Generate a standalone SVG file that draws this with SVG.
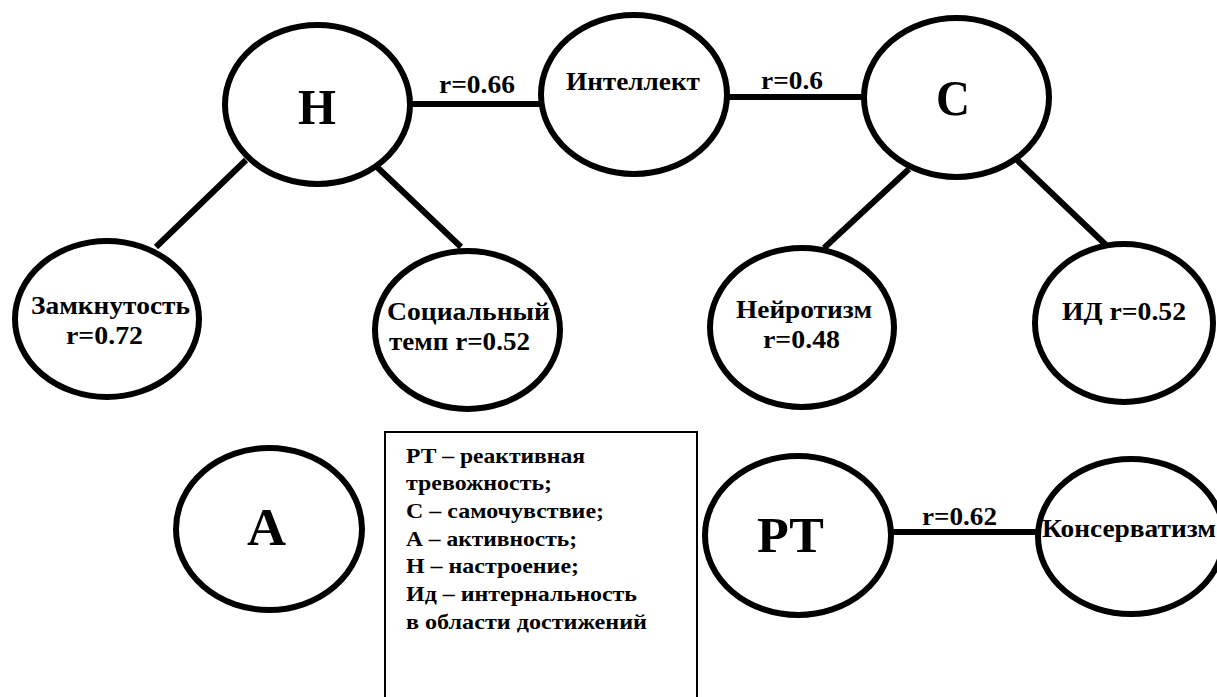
<svg xmlns="http://www.w3.org/2000/svg" width="1217" height="697" viewBox="0 0 1217 697">
<style>
.n{fill:#fff;stroke:#000;stroke-width:6}
.c{stroke:#000;stroke-width:6;fill:none}
text{font-family:'Liberation Serif','DejaVu Serif',serif;font-weight:700;fill:#000;font-size:25px}
.big{font-size:50px}
.lg{font-size:21px}
</style>
<rect width="1217" height="697" fill="#fff"/>
<g id="connectors">
<line class="c" x1="410" y1="104" x2="542" y2="104"/>
<line class="c" x1="727" y1="97" x2="864" y2="97"/>
<line class="c" x1="246" y1="160" x2="156" y2="247"/>
<line class="c" x1="377" y1="167" x2="461" y2="247"/>
<line class="c" x1="909" y1="169" x2="824" y2="248"/>
<line class="c" x1="1017" y1="160" x2="1106" y2="245"/>
<line class="c" x1="891" y1="532" x2="1038" y2="532"/>
<text x="439" y="93" textLength="76" lengthAdjust="spacingAndGlyphs">r=0.66</text>
<text x="761" y="89" textLength="62" lengthAdjust="spacingAndGlyphs">r=0.6</text>
<text x="922" y="525" textLength="75" lengthAdjust="spacingAndGlyphs">r=0.62</text>
</g>
<g id="node-H">
<ellipse class="n" cx="317.5" cy="104.5" rx="92.5" ry="79.5"/>
<text class="big" x="298" y="124" textLength="38" lengthAdjust="spacingAndGlyphs">Н</text>
</g>
<g id="node-intellect">
<ellipse class="n" cx="634" cy="94.5" rx="93" ry="79.5"/>
<text x="566" y="90" textLength="134" lengthAdjust="spacingAndGlyphs">Интеллект</text>
</g>
<g id="node-C">
<ellipse class="n" cx="956.5" cy="97.5" rx="92.5" ry="79.5"/>
<text class="big" x="936" y="115" textLength="34" lengthAdjust="spacingAndGlyphs">С</text>
</g>
<g id="node-zamk">
<ellipse class="n" cx="107" cy="319" rx="92" ry="78"/>
<text x="31" y="314" textLength="159" lengthAdjust="spacingAndGlyphs">Замкнутость</text>
<text x="66" y="344" textLength="77" lengthAdjust="spacingAndGlyphs">r=0.72</text>
</g>
<g id="node-social">
<ellipse class="n" cx="467.5" cy="330" rx="92.5" ry="79"/>
<text x="387" y="320" textLength="163" lengthAdjust="spacingAndGlyphs">Социальный</text>
<text x="389" y="350" textLength="141" lengthAdjust="spacingAndGlyphs">темп r=0.52</text>
</g>
<g id="node-neiro">
<ellipse class="n" cx="802" cy="327.5" rx="92" ry="79.5"/>
<text x="736" y="318" textLength="136" lengthAdjust="spacingAndGlyphs">Нейротизм</text>
<text x="763" y="348" textLength="77" lengthAdjust="spacingAndGlyphs">r=0.48</text>
</g>
<g id="node-id">
<ellipse class="n" cx="1124" cy="323" rx="89" ry="79"/>
<text x="1062" y="320" textLength="124" lengthAdjust="spacingAndGlyphs">ИД r=0.52</text>
</g>
<g id="node-A">
<ellipse class="n" cx="269" cy="529" rx="93" ry="81"/>
<text class="big" x="247" y="545" style="font-size:52px" textLength="39" lengthAdjust="spacingAndGlyphs">А</text>
</g>
<g id="legend">
<rect x="385" y="432" width="312" height="290" fill="#fff" stroke="#000" stroke-width="2"/>
<text class="lg" x="406" y="463" textLength="179" lengthAdjust="spacingAndGlyphs">РТ – реактивная</text>
<text class="lg" x="406" y="490" textLength="146" lengthAdjust="spacingAndGlyphs">тревожность;</text>
<text class="lg" x="406" y="518" textLength="198" lengthAdjust="spacingAndGlyphs">С – самочувствие;</text>
<text class="lg" x="406" y="546" textLength="171" lengthAdjust="spacingAndGlyphs">А – активность;</text>
<text class="lg" x="406" y="573" textLength="173" lengthAdjust="spacingAndGlyphs">Н – настроение;</text>
<text class="lg" x="406" y="601" textLength="231" lengthAdjust="spacingAndGlyphs">Ид – интернальность</text>
<text class="lg" x="406" y="629" textLength="241" lengthAdjust="spacingAndGlyphs">в области достижений</text>
</g>
<g id="node-PT">
<ellipse class="n" cx="798" cy="535.5" rx="93" ry="79.5"/>
<text class="big" x="757" y="552" textLength="67" lengthAdjust="spacingAndGlyphs">РТ</text>
</g>
<g id="node-kons">
<ellipse class="n" cx="1131" cy="536.5" rx="93" ry="77.5"/>
<text x="1042" y="537" textLength="174" lengthAdjust="spacingAndGlyphs">Консерватизм</text>
</g>
</svg>
